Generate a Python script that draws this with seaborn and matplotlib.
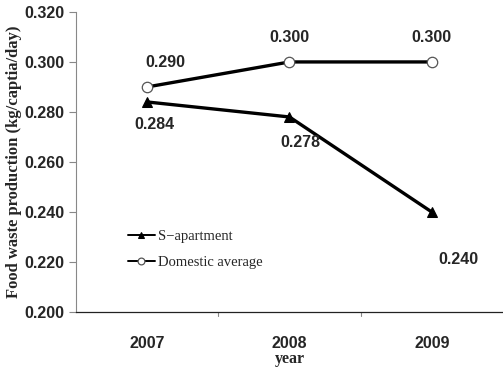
import pandas as pd
import seaborn as sns
import matplotlib.pyplot as plt

years = ["2007", "2008", "2009"]
s_apartment = [0.284, 0.278, 0.240]
domestic_avg = [0.290, 0.300, 0.300]
y_ticks = [0.200, 0.220, 0.240, 0.260, 0.280, 0.300, 0.320]

df = pd.DataFrame({
    "pos": list(range(len(years))) * 2,
    "value": s_apartment + domestic_avg,
    "series": ["S\u2212apartment"] * 3 + ["Domestic average"] * 3,
})

sns.set_style("white")
plt.rcParams["font.family"] = ["Liberation Sans", "DejaVu Sans"]

fig = plt.figure(figsize=(5.03, 3.72), dpi=100)
ax = fig.add_axes([0.151, 0.161, 0.849, 0.807])

sub = df[df.series == "S\u2212apartment"]
sns.lineplot(data=sub, x="pos", y="value", ax=ax, color="black", lw=2.4,
             marker="^", markersize=7, markerfacecolor="black",
             markeredgecolor="black", label="S\u2212apartment")
sub = df[df.series == "Domestic average"]
sns.lineplot(data=sub, x="pos", y="value", ax=ax, color="black", lw=2.4,
             marker="o", markersize=7.5, markerfacecolor="white",
             markeredgecolor="#555555", markeredgewidth=0.9,
             label="Domestic average")

# value labels
for i, v in enumerate(domestic_avg):
    ax.annotate(f"{v:.3f}", (i, v), xytext=(0 if i else 13, 12),
                textcoords="offset points", ha="center", va="bottom",
                fontsize=11.5, fontweight="bold")
offs = [(5, -11), (8, -13), (19, -29)]
for i, v in enumerate(s_apartment):
    ax.annotate(f"{v:.3f}", (i, v), xytext=offs[i],
                textcoords="offset points", ha="center", va="top",
                fontsize=11.5, fontweight="bold")

ax.set_xlim(-0.5, 2.5)
ax.set_ylim(0.200, 0.320)
ax.set_yticks(y_ticks)
ax.set_yticklabels([f"{t:.3f}" for t in y_ticks], fontsize=11.5, fontweight="bold")
ax.set_xticks([0, 1, 2])
ax.set_xticklabels(years, fontsize=11.5, fontweight="bold")
ax.tick_params(axis="x", length=0, pad=17)
ax.tick_params(axis="y", left=True, length=5, width=0.8, color="#888888", pad=3)
for b in [0.5, 1.5]:
    ax.plot([b, b], [0, -0.012], transform=ax.get_xaxis_transform(),
            color="#888888", lw=0.8, clip_on=False)

ax.set_xlabel("year", family="Liberation Serif", fontweight="bold",
              fontsize=11.5, labelpad=0)
ax.set_ylabel("Food waste production (kg/captia/day)", family="Liberation Serif",
              fontweight="bold", fontsize=12, labelpad=2)

sns.despine(ax=ax)
ax.spines["left"].set_color("#888888")
ax.spines["bottom"].set_color("#222222")
ax.spines["left"].set_linewidth(0.8)
ax.spines["bottom"].set_linewidth(0.9)

leg = ax.legend(loc="lower left", bbox_to_anchor=(0.09, 0.10), frameon=False,
                prop={"family": "Liberation Serif", "size": 10.5},
                handlelength=1.9, handletextpad=0.2, labelspacing=0.9,
                markerscale=0.65)
for ln in leg.get_lines():
    ln.set_linewidth(1.4)

fig.savefig("out.png", dpi=100)
